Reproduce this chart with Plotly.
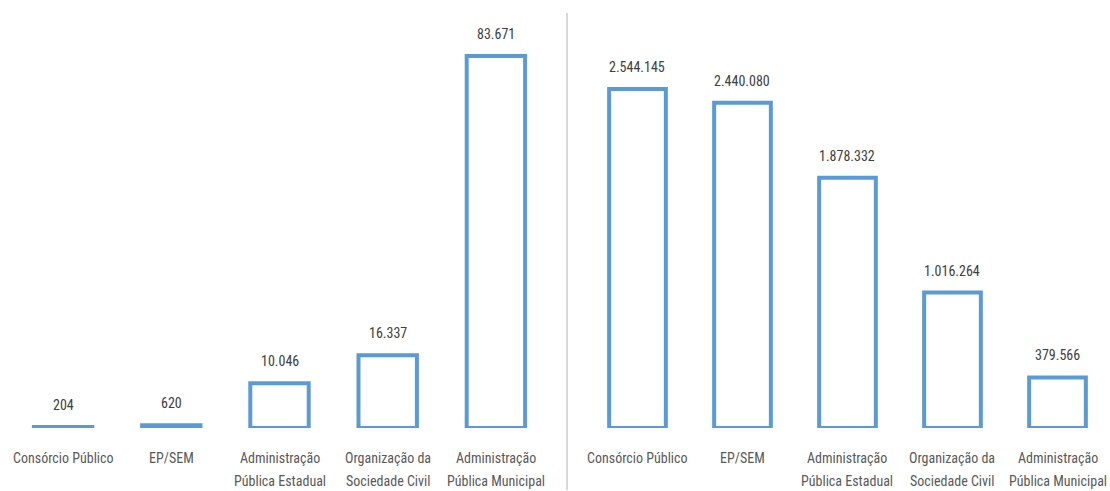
import plotly.graph_objects as go

# Categories shared by both panels
categorias = [
    "Consórcio Público",
    "EP/SEM",
    "Administração<br>Pública Estadual",
    "Organização da<br>Sociedade Civil",
    "Administração<br>Pública Municipal",
]

# Left panel values
valores_esq = [204, 620, 10046, 16337, 83671]
rotulos_esq = ["204", "620", "10.046", "16.337", "83.671"]

# Right panel values
valores_dir = [2544145, 2440080, 1878332, 1016264, 379566]
rotulos_dir = ["2.544.145", "2.440.080", "1.878.332", "1.016.264", "379.566"]

AZUL = "#5B9BD5"
TEXTO = "#404040"
FONTE = "Liberation Sans Narrow, Roboto Condensed, Arial Narrow, sans-serif"

fig = go.Figure()

fig.add_trace(go.Bar(
    x=categorias, y=valores_esq, xaxis="x", yaxis="y",
    width=0.54,
    marker=dict(color="rgba(255,255,255,0)", line=dict(color=AZUL, width=4)),
    showlegend=False, hoverinfo="skip",
))
fig.add_trace(go.Bar(
    x=categorias, y=valores_dir, xaxis="x2", yaxis="y2",
    width=0.54,
    marker=dict(color="rgba(255,255,255,0)", line=dict(color=AZUL, width=4)),
    showlegend=False, hoverinfo="skip",
))

anotacoes = []
# value labels above each bar
for c, v, t in zip(categorias, valores_esq, rotulos_esq):
    anotacoes.append(dict(x=c, y=v, xref="x", yref="y", text=t, showarrow=False,
                          yanchor="bottom", yshift=12,
                          font=dict(family=FONTE, size=14, color=TEXTO)))
for c, v, t in zip(categorias, valores_dir, rotulos_dir):
    anotacoes.append(dict(x=c, y=v, xref="x2", yref="y2", text=t, showarrow=False,
                          yanchor="bottom", yshift=12,
                          font=dict(family=FONTE, size=14, color=TEXTO)))

# category labels under each axis, one line at a time for wider line spacing
for eixo in ("x", "x2"):
    for c in categorias:
        for i, linha in enumerate(c.split("<br>")):
            anotacoes.append(dict(x=c, y=0, xref=eixo, yref="paper", text=linha,
                                  showarrow=False, yanchor="middle",
                                  yshift=-30 - 23 * i,
                                  font=dict(family=FONTE, size=14, color="#595959")))

eixo_x = dict(showgrid=False, zeroline=False, showline=False, ticks="",
              showticklabels=False, fixedrange=True)
eixo_y = dict(visible=False, showgrid=False, zeroline=False, fixedrange=True)

fig.update_layout(
    width=1110, height=491,
    margin=dict(l=0, r=0, t=20, b=63),
    paper_bgcolor="white", plot_bgcolor="white",
    xaxis=dict(domain=[9 / 1110, 550 / 1110], **eixo_x),
    xaxis2=dict(domain=[585 / 1110, 1110 / 1110], anchor="y2", **eixo_x),
    yaxis=dict(range=[0, 91770], **eixo_y),
    yaxis2=dict(range=[0, 3062000], anchor="x2", **eixo_y),
    annotations=anotacoes,
    shapes=[dict(type="line", xref="paper", yref="paper",
                 x0=567 / 1110, x1=567 / 1110, y0=-0.152, y1=1.017,
                 line=dict(color="#D9D9D9", width=2))],
)

fig.write_html("out.html")
